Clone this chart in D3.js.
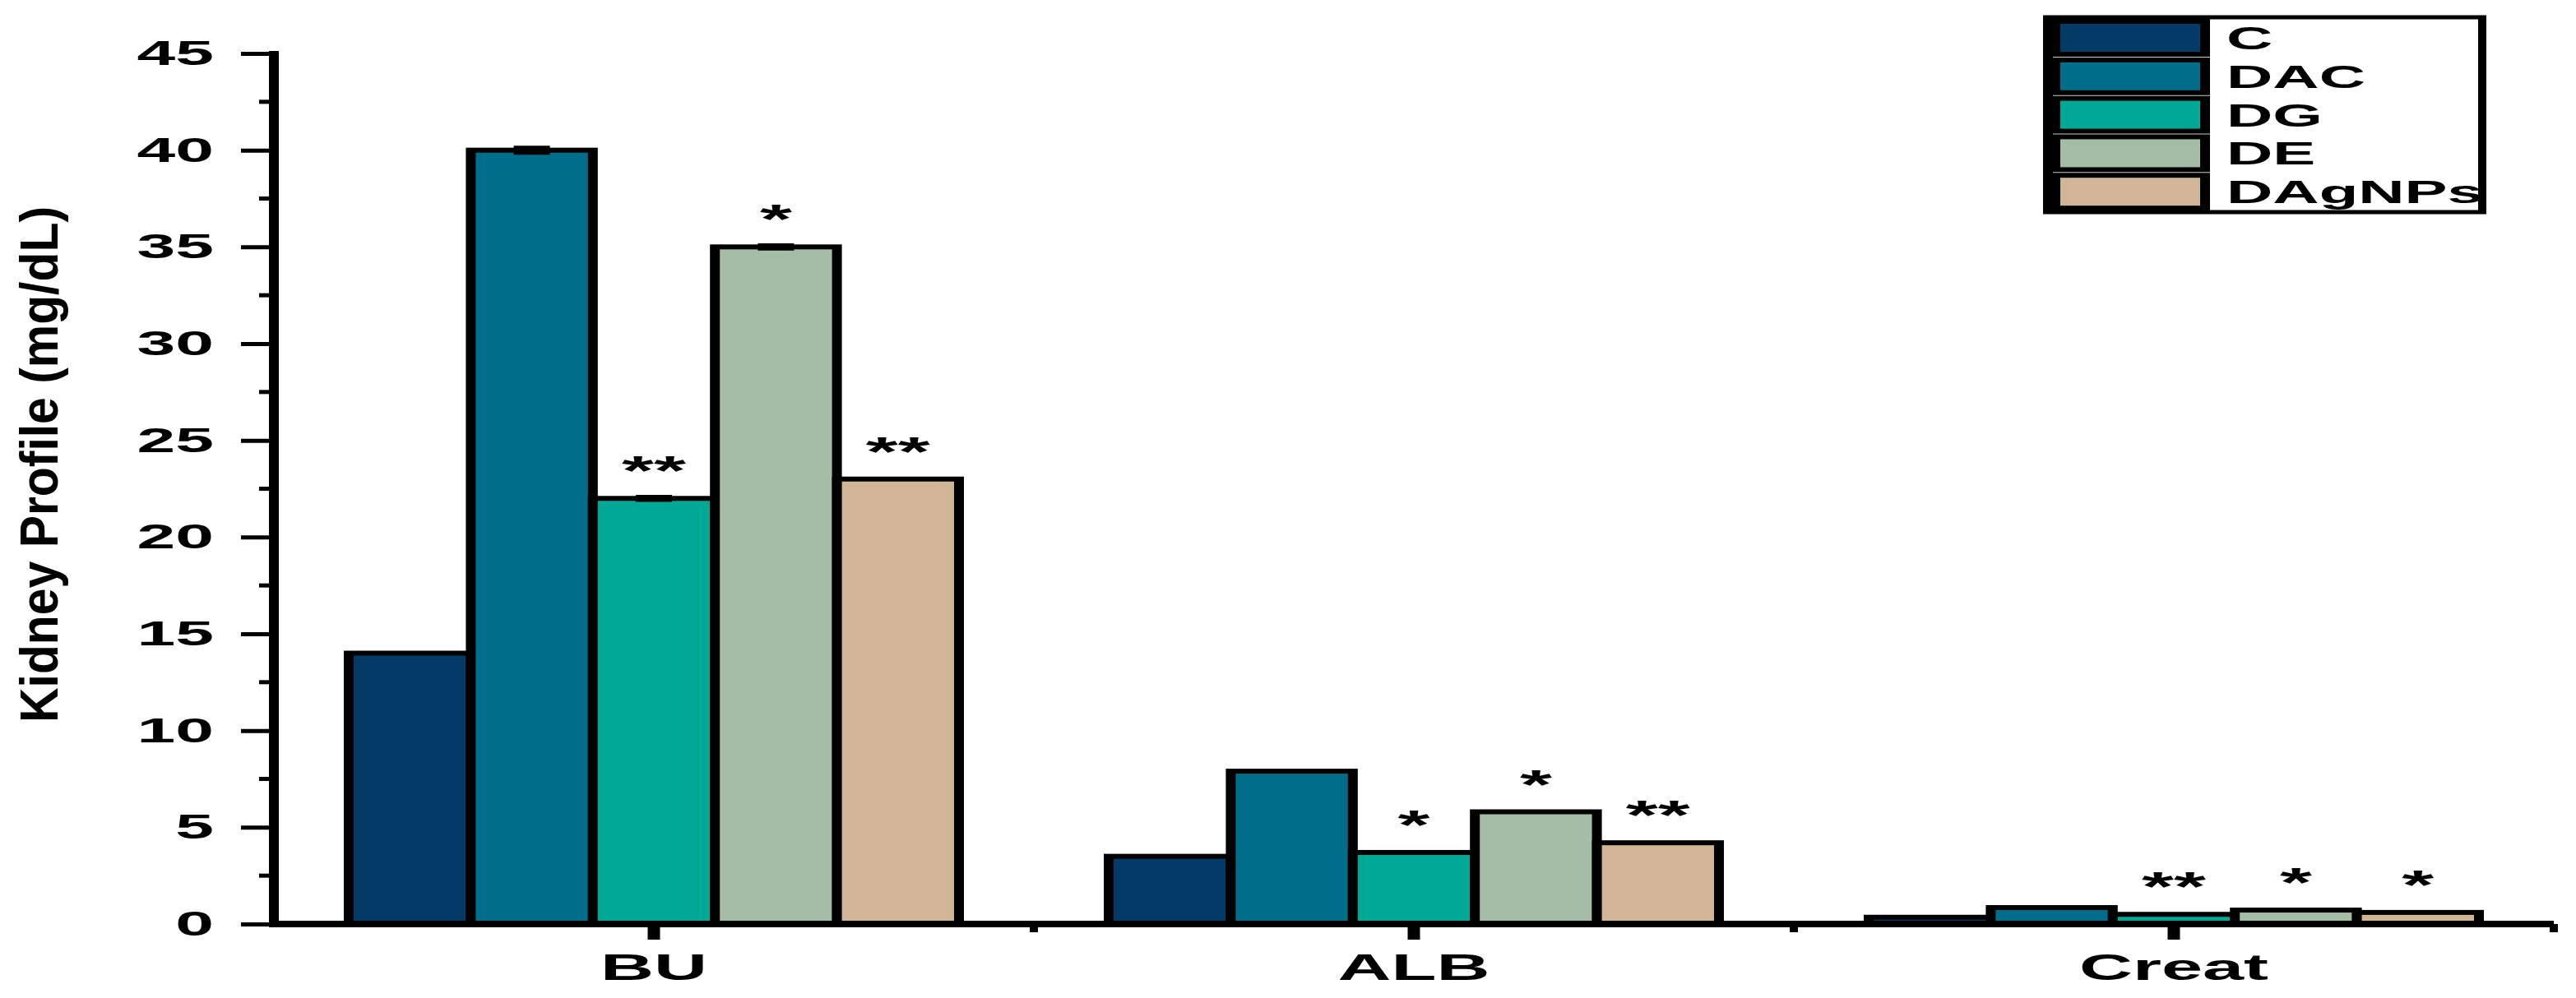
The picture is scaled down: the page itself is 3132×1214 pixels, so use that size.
<!DOCTYPE html>
<html>
<head>
<meta charset="utf-8">
<script src="https://cdn.jsdelivr.net/npm/d3@7"></script>
<style>
  body { margin: 0; background: #fff; }
  text { font-family: "Liberation Sans", Arial, sans-serif; }
</style>
</head>
<body>
<div id="chart"></div>
<script>
// values
const categories = ["BU", "ALB", "Creat"];
const groups = ["C", "DAC", "DG", "DE", "DAgNPs"];
const seriesC = [14, 3.5, 0.35];
const seriesDAC = [40, 7.9, 0.85];
const seriesDG = [22, 3.7, 0.5];
const seriesDE = [35, 5.8, 0.72];
const seriesDAgNPs = [23, 4.2, 0.6];
const errDAC = [0.15, 0, 0];
const errDG = [0.1, 0, 0];
const errDE = [0.1, 0, 0];
const sigDG = ["**", "*", "**"];
const sigDE = ["*", "*", "*"];
const sigDAgNPs = ["**", "**", "*"];
const yTicks = [0, 5, 10, 15, 20, 25, 30, 35, 40, 45];
const colors = ["#023c66", "#006e8b", "#00a896", "#a4bea5", "#d1b597"];

function vis(div) {
  const width = 3132, height = 1214;
  const margin = {top: 65, right: 27, bottom: 90, left: 333};
  // the original figure is stretched 2x horizontally, so the plot is
  // drawn at half width and scaled back up (text and vertical strokes too)
  const sx = 2;
  const visWidth = (width - margin.left - margin.right) / sx;
  const visHeight = height - margin.top - margin.bottom;

  const svg = div.append("svg")
    .attr("width", width)
    .attr("height", height);

  const g = svg.append("g")
    .attr("transform", `translate(${margin.left}, ${margin.top}) scale(${sx},1)`);

  const series = [seriesC, seriesDAC, seriesDG, seriesDE, seriesDAgNPs];
  const errs = [null, errDAC, errDG, errDE, null];
  const sigs = [null, null, sigDG, sigDE, sigDAgNPs];

  const data = categories.map((c, i) => ({
    cat: c,
    vals: groups.map((grp, j) => ({
      grp: grp,
      cat: c,
      value: series[j][i],
      err: errs[j] ? errs[j][i] : 0,
      sig: sigs[j] ? sigs[j][i] : ""
    }))
  }));

  const x = d3.scaleBand()
    .domain(categories)
    .range([0, visWidth])
    .paddingInner(0.197)
    .paddingOuter(0.0985);

  const xInner = d3.scaleBand()
    .domain(groups)
    .range([0, x.bandwidth()]);

  const y = d3.scaleLinear()
    .domain([0, 45])
    .range([visHeight, 0]);

  const color = d3.scaleOrdinal()
    .domain(groups)
    .range(colors);

  // bars
  const catGroups = g.selectAll(".cat")
    .data(data)
    .join("g")
    .attr("class", "cat")
    .attr("transform", d => `translate(${x(d.cat)},0)`);

  catGroups.selectAll("rect")
    .data(d => d.vals)
    .join("rect")
    .attr("x", d => xInner(d.grp))
    .attr("y", d => y(d.value))
    .attr("width", xInner.bandwidth())
    .attr("height", d => visHeight - y(d.value))
    .attr("fill", d => color(d.grp))
    .attr("stroke", "black")
    .attr("stroke-width", 6);

  // error bars
  const eb = catGroups.selectAll(".err")
    .data(d => d.vals.filter(v => v.err > 0))
    .join("g")
    .attr("class", "err")
    .attr("transform", d => `translate(${xInner(d.grp) + xInner.bandwidth() / 2},0)`);
  eb.append("line")
    .attr("y1", d => y(d.value + d.err))
    .attr("y2", d => y(d.value - d.err))
    .attr("stroke", "black")
    .attr("stroke-width", 1.5);
  eb.selectAll(".cap")
    .data(d => [d.value + d.err, d.value - d.err])
    .join("line")
    .attr("class", "cap")
    .attr("x1", -11)
    .attr("x2", 11)
    .attr("y1", d => y(d))
    .attr("y2", d => y(d))
    .attr("stroke", "black")
    .attr("stroke-width", 4);

  // significance stars
  catGroups.selectAll(".sig")
    .data(d => d.vals.filter(v => v.sig))
    .join("text")
    .attr("class", "sig")
    .attr("x", d => xInner(d.grp) + xInner.bandwidth() / 2)
    .attr("y", d => y(d.value) - 16)
    .attr("text-anchor", "middle")
    .attr("font-size", 50)
    .attr("font-weight", "bold")
    .text(d => d.sig);

  // y axis
  const yAxis = d3.axisLeft(y)
    .tickValues(yTicks)
    .tickSize(20)
    .tickPadding(16.5)
    .tickFormat(d3.format("d"));

  g.append("g")
    .call(yAxis)
    .call(a => a.select(".domain").remove())
    .call(a => a.selectAll(".tick line").attr("stroke-width", 5))
    .call(a => a.selectAll(".tick text")
      .attr("font-size", 42)
      .attr("font-weight", "bold")
      .attr("fill", "black"));

  // minor y ticks
  g.append("g")
    .selectAll("line")
    .data(yTicks.slice(0, -1).map(d => d + 2.5))
    .join("line")
    .attr("x1", -9)
    .attr("x2", 0)
    .attr("y1", d => y(d))
    .attr("y2", d => y(d))
    .attr("stroke", "black")
    .attr("stroke-width", 5);

  g.append("line")
    .attr("x1", 0)
    .attr("x2", 0)
    .attr("y1", -3)
    .attr("y2", visHeight + 3)
    .attr("stroke", "black")
    .attr("stroke-width", 6);

  // x axis
  const xAxis = d3.axisBottom(x)
    .tickSize(19)
    .tickSizeOuter(0)
    .tickPadding(17);

  g.append("g")
    .attr("transform", `translate(0, ${visHeight})`)
    .call(xAxis)
    .call(a => a.select(".domain").remove())
    .call(a => a.selectAll(".tick line").attr("stroke-width", 7.5))
    .call(a => a.selectAll(".tick text")
      .attr("font-size", 45)
      .attr("font-weight", "bold")
      .attr("fill", "black"));

  // minor x ticks at the group boundaries
  g.append("g")
    .selectAll("line")
    .data(categories.slice(1).map(c => x(c) - x.step() * x.paddingInner() / 2).concat([visWidth]))
    .join("line")
    .attr("x1", d => d)
    .attr("x2", d => d)
    .attr("y1", visHeight)
    .attr("y2", visHeight + 10)
    .attr("stroke", "black")
    .attr("stroke-width", 5);

  g.append("line")
    .attr("x1", -3)
    .attr("x2", visWidth)
    .attr("y1", visHeight)
    .attr("y2", visHeight)
    .attr("stroke", "black")
    .attr("stroke-width", 8);

  // y title
  svg.append("text")
    .attr("transform", "translate(70, 565) rotate(-90) scale(0.92,1)")
    .attr("text-anchor", "middle")
    .attr("font-size", 64)
    .attr("font-weight", "bold")
    .text("Kidney Profile (mg/dL)");

  // legend
  const legend = svg.append("g")
    .attr("transform", `translate(2489, 21) scale(${sx},1)`);
  legend.append("rect")
    .attr("width", 264.5)
    .attr("height", 237)
    .attr("fill", "white")
    .attr("stroke", "black")
    .attr("stroke-width", 5);
  legend.append("line")
    .attr("x1", 3)
    .attr("x2", 3)
    .attr("y1", 0)
    .attr("y2", 237)
    .attr("stroke", "black")
    .attr("stroke-width", 1);

  const rows = legend.selectAll(".row")
    .data(groups)
    .join("g")
    .attr("class", "row")
    .attr("transform", (d, i) => `translate(5, ${5 + i * 46.8})`);
  rows.append("rect")
    .attr("width", 91)
    .attr("height", 40)
    .attr("fill", d => color(d))
    .attr("stroke", "black")
    .attr("stroke-width", 6);
  rows.append("text")
    .attr("x", 104)
    .attr("y", 34)
    .attr("font-size", 39)
    .attr("font-weight", "bold")
    .text(d => d);
}

vis(d3.select("#chart"));
</script>
</body>
</html>
